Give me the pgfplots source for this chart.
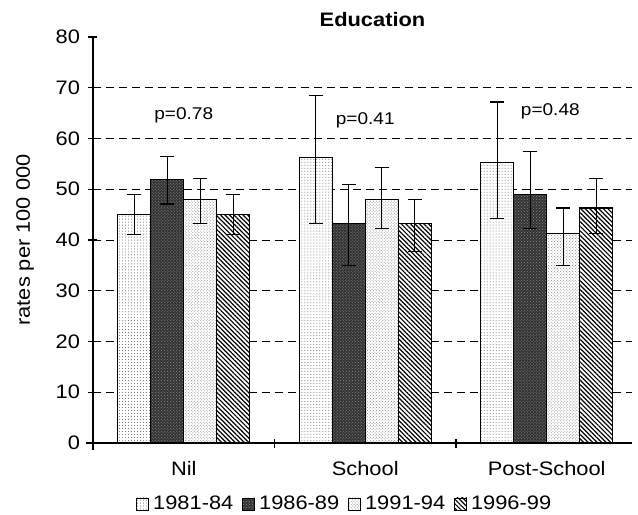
\documentclass[border=0pt]{standalone}
\usepackage{fontspec}
\setmainfont{Liberation Sans}[FakeStretch=1.12]
\usepackage{pgfplots}
\pgfplotsset{compat=1.18}
\usepackage{pgfplotstable}
\usetikzlibrary{patterns,patterns.meta}

\pgfplotsset{my legend/.style={legend image code/.code={\draw[##1, line width=0.8pt] (0bp,-6bp) rectangle (12bp,6bp);}}}

\pgfplotstableread{
x y ep em
0 45 4 4
1 56.2 12.2 13
2 55.2 12 11
}\tA
\pgfplotstableread{
x y ep em
0 52 4.4 4.9
1 43.2 7.8 8.3
2 49 8.4 6.8
}\tB
\pgfplotstableread{
x y ep em
0 48 4.2 4.7
1 48 6.2 5.8
2 41.2 5.1 6.3
}\tC
\pgfplotstableread{
x y ep em
0 45 4 4
1 43.2 4.8 5.4
2 46.3 5.9 5.1
}\tD

\newcommand{\bigf}{\fontsize{19.5bp}{23bp}\selectfont}
\newcommand{\pf}{\fontsize{17bp}{20bp}\selectfont}

\begin{document}
\begin{tikzpicture}
\path[use as bounding box] (-93bp,-72bp) rectangle (545bp,443bp);
\begin{axis}[
  at={(0,0)}, anchor=south west,
  scale only axis, width=539bp, height=406bp,
  xmin=-0.5, xmax=2.47, ymin=0, ymax=80,
  axis x line*=bottom, axis y line*=left,
  axis line style={line width=1.1pt, black, shorten <=-7bp},
  ybar=0pt, bar width=33bp,
  ytick={0,10,...,80},
  tick align=center,
  major tick length=9bp,
  every tick/.style={line width=1.1pt, black},
  xtick={0,1,2}, xticklabels={Nil,School,Post-School},
  xtick style={draw=none},
  extra x ticks={0.5,1.5}, extra x tick labels={},
  extra x tick style={xtick style={draw=black}},
  extra y ticks={10,20,...,70}, extra y tick labels={},
  extra y tick style={grid=major},
  major grid style={black, line width=1pt, dash pattern=on 8bp off 5bp},
  tick label style={font=\bigf},
  xticklabel style={yshift=-10bp},
  yticklabel style={xshift=-5bp},
  /pgf/number format/assume math mode=true,
  title={Education},
  title style={font=\bigf\bfseries, xshift=10bp, yshift=1bp},
  ylabel={rates per 100 000},
  ylabel style={font=\bigf, at={(axis description cs:-0.126,0.5)}, anchor=center},
  legend style={at={(axis description cs:0.469,-0.15)}, anchor=center, draw=none,
    font=\bigf, nodes={inner xsep=4bp},
    /tikz/every even column/.append style={column sep=5bp}},
  legend columns=4,
  error bars/y dir=both, error bars/y explicit,
  error bars/error bar style={line width=1.1pt, black},
  error bars/error mark options={rotate=90, mark size=7bp, line width=1.1pt, black},
]
\addplot[draw=black, line width=1.1pt, fill=white, postaction={pattern=dots, pattern color=black!60}, my legend]
  table[x=x, y=y, y error plus=ep, y error minus=em]{\tA};
\addplot[draw=black, line width=1.1pt, fill=black!80, postaction={pattern=crosshatch dots, pattern color=black!45}, my legend]
  table[x=x, y=y, y error plus=ep, y error minus=em]{\tB};
\addplot[draw=black, line width=1.1pt, fill=white, postaction={pattern=crosshatch dots, pattern color=black!45}, my legend]
  table[x=x, y=y, y error plus=ep, y error minus=em]{\tC};
\addplot[draw=black, line width=1.1pt, fill=white, postaction={pattern={Lines[angle=-45, distance=3.2bp, line width=1.2bp]}, pattern color=black}, my legend]
  table[x=x, y=y, y error plus=ep, y error minus=em]{\tD};
\legend{1981-84,1986-89,1991-94,1996-99}
\node[font=\pf] at (axis cs:0,64.6) {p=0.78};
\node[font=\pf] at (axis cs:1,63.6) {p=0.41};
\node[font=\pf] at (axis cs:2.02,65.4) {p=0.48};
\end{axis}
\end{tikzpicture}
\end{document}
